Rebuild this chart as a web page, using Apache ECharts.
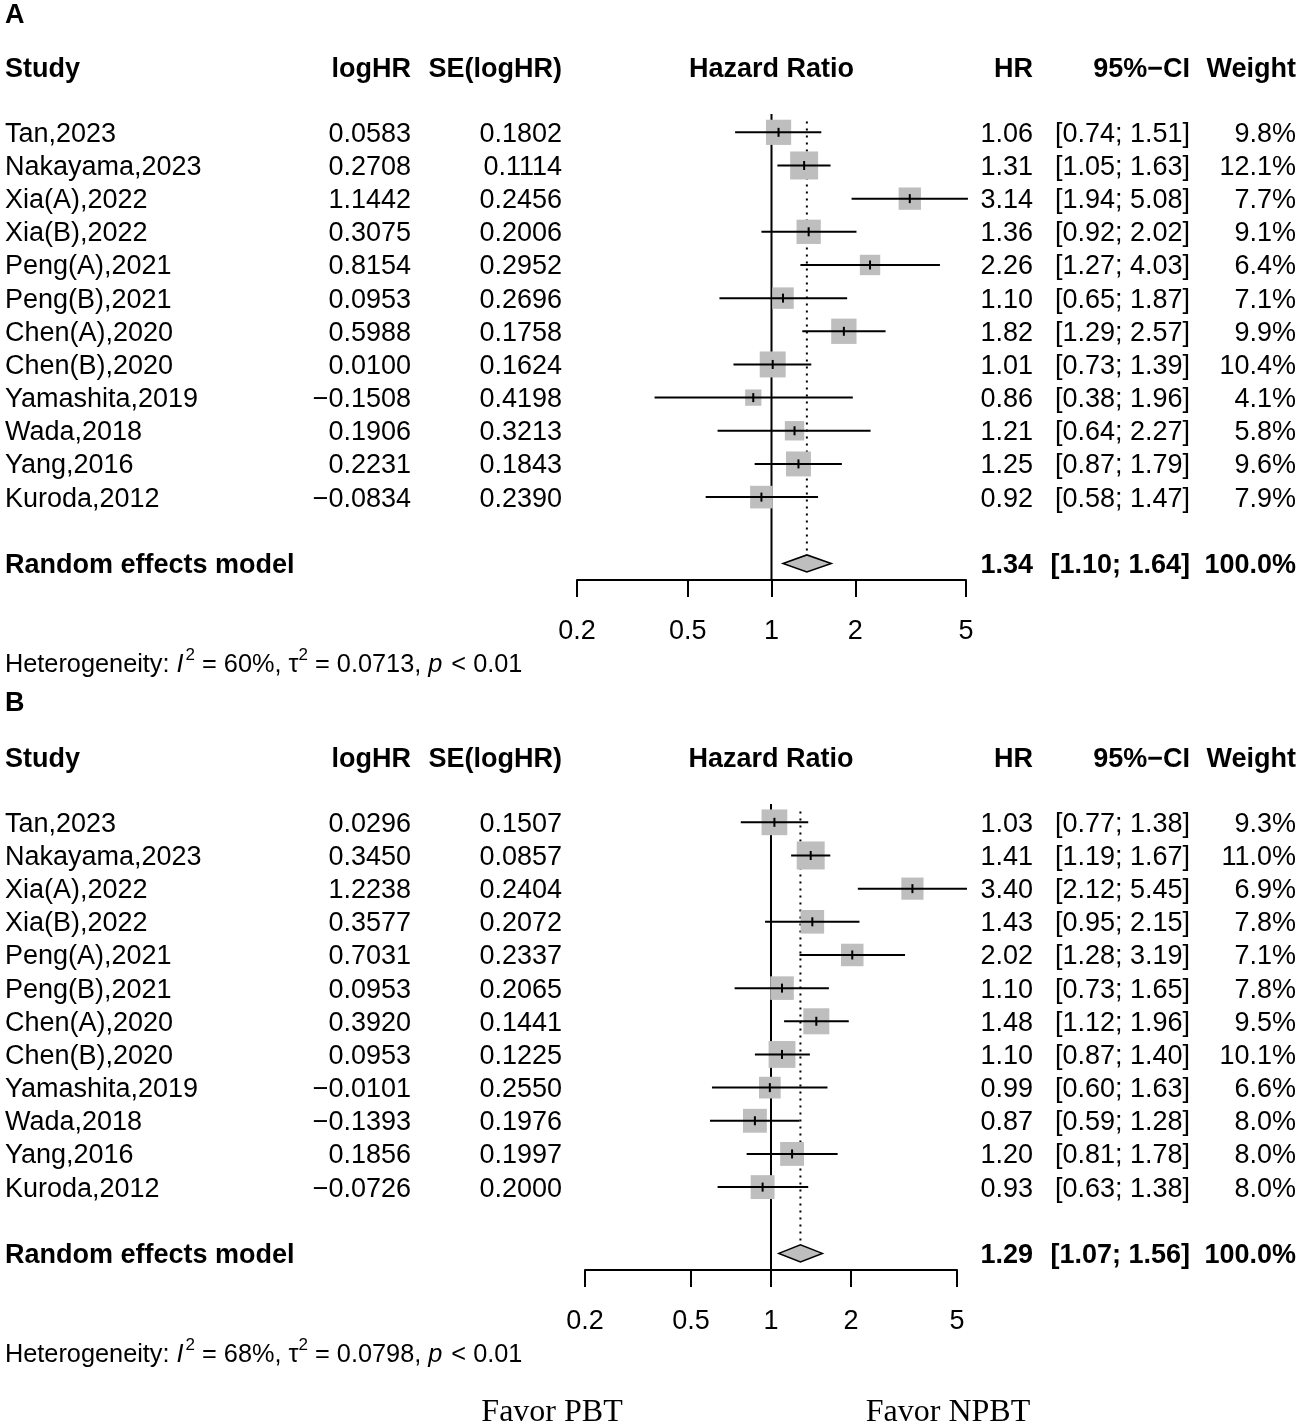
<!DOCTYPE html>
<html>
<head>
<meta charset="utf-8">
<script src="https://cdn.jsdelivr.net/npm/echarts@6/dist/echarts.min.js"></script>
<style>
  html, body { margin: 0; padding: 0; background: #fff; }
  #chart { width: 1299px; height: 1424px; }
</style>
</head>
<body>
<div id="chart"></div>
<script>
// studies (same order in both panels)
const studies = ['Tan,2023', 'Nakayama,2023', 'Xia(A),2022', 'Xia(B),2022', 'Peng(A),2021', 'Peng(B),2021',
  'Chen(A),2020', 'Chen(B),2020', 'Yamashita,2019', 'Wada,2018', 'Yang,2016', 'Kuroda,2012'];

// panel A
const logHrA = [0.0583, 0.2708, 1.1442, 0.3075, 0.8154, 0.0953, 0.5988, 0.0100, -0.1508, 0.1906, 0.2231, -0.0834];
const seA = [0.1802, 0.1114, 0.2456, 0.2006, 0.2952, 0.2696, 0.1758, 0.1624, 0.4198, 0.3213, 0.1843, 0.2390];
const hrA = [1.06, 1.31, 3.14, 1.36, 2.26, 1.10, 1.82, 1.01, 0.86, 1.21, 1.25, 0.92];
const lowA = [0.74, 1.05, 1.94, 0.92, 1.27, 0.65, 1.29, 0.73, 0.38, 0.64, 0.87, 0.58];
const highA = [1.51, 1.63, 5.08, 2.02, 4.03, 1.87, 2.57, 1.39, 1.96, 2.27, 1.79, 1.47];
const weightA = [9.8, 12.1, 7.7, 9.1, 6.4, 7.1, 9.9, 10.4, 4.1, 5.8, 9.6, 7.9];
const pooledA = [1.34, 1.10, 1.64];          // HR, lower, upper
const hetA = ['60%', '0.0713', '< 0.01'];     // I2, tau2, p

// panel B
const logHrB = [0.0296, 0.3450, 1.2238, 0.3577, 0.7031, 0.0953, 0.3920, 0.0953, -0.0101, -0.1393, 0.1856, -0.0726];
const seB = [0.1507, 0.0857, 0.2404, 0.2072, 0.2337, 0.2065, 0.1441, 0.1225, 0.2550, 0.1976, 0.1997, 0.2000];
const hrB = [1.03, 1.41, 3.40, 1.43, 2.02, 1.10, 1.48, 1.10, 0.99, 0.87, 1.20, 0.93];
const lowB = [0.77, 1.19, 2.12, 0.95, 1.28, 0.73, 1.12, 0.87, 0.60, 0.59, 0.81, 0.63];
const highB = [1.38, 1.67, 5.45, 2.15, 3.19, 1.65, 1.96, 1.40, 1.63, 1.28, 1.78, 1.38];
const weightB = [9.3, 11.0, 6.9, 7.8, 7.1, 7.8, 9.5, 10.1, 6.6, 8.0, 8.0, 8.0];
const pooledB = [1.29, 1.07, 1.56];
const hetB = ['68%', '0.0798', '< 0.01'];

const axisTicks = [0.2, 0.5, 1, 2, 5];
const favorLabels = ['Favor PBT', 'Favor NPBT'];

const FONT = "'Liberation Sans', Arial, Helvetica, sans-serif";
const SERIF = "'Liberation Serif', 'Times New Roman', serif";
const FS = 27;
const HET_FS = 25.3;
const DY = 2; // text baseline nudge
const COL = { study: 5, logHr: 411, se: 562, hr: 1033, ci: 1190, w: 1296 };
const GRAY = '#bebebe';

const panels = [
  { title: 'A', logHr: logHrA, se: seA, hr: hrA, lo: lowA, hi: highA, w: weightA, pooled: pooledA, het: hetA,
    grid: { left: 577, width: 389, top: 66, height: 514 } },
  { title: 'B', logHr: logHrB, se: seB, hr: hrB, lo: lowB, hi: highB, w: weightB, pooled: pooledB, het: hetB,
    grid: { left: 585, width: 372, top: 756, height: 514 }, favor: true }
];

const lg = v => Math.log10(v);
const minus = s => s.replace('-', '\u2212');
const ciText = (a, b) => '[' + a.toFixed(2) + '; ' + b.toFixed(2) + ']';

const measureCtx = document.createElement('canvas').getContext('2d');
function textWidth(str, font) { measureCtx.font = font; return measureCtx.measureText(str).width; }

function txt(text, x, y, align, opts) {
  opts = opts || {};
  return {
    type: 'text', x: x, y: y + DY,
    style: {
      text: text, fill: '#000',
      fontSize: opts.size || FS, fontFamily: opts.family || FONT,
      fontWeight: opts.bold ? 'bold' : 'normal', fontStyle: opts.italic ? 'italic' : 'normal',
      align: align, verticalAlign: 'middle', textAlign: align, textVerticalAlign: 'middle'
    }
  };
}

function tableRows(p) {
  const rows = [];
  rows.push({ row: -1.95, bold: true, cells: [['Study', COL.study, 'left'], ['logHR', COL.logHr, 'right'],
    ['SE(logHR)', COL.se, 'right'], ['Hazard Ratio', 'ref', 'center'], ['HR', COL.hr, 'right'],
    ['95%\u2212CI', COL.ci, 'right'], ['Weight', COL.w, 'right']] });
  studies.forEach((s, i) => {
    rows.push({ row: i, bold: false, cells: [[s, COL.study, 'left'],
      [minus(p.logHr[i].toFixed(4)), COL.logHr, 'right'], [p.se[i].toFixed(4), COL.se, 'right'],
      [p.hr[i].toFixed(2), COL.hr, 'right'], [ciText(p.lo[i], p.hi[i]), COL.ci, 'right'],
      [p.w[i].toFixed(1) + '%', COL.w, 'right']] });
  });
  rows.push({ row: 13, bold: true, cells: [['Random effects model', COL.study, 'left'],
    [p.pooled[0].toFixed(2), COL.hr, 'right'], [ciText(p.pooled[1], p.pooled[2]), COL.ci, 'right'],
    ['100.0%', COL.w, 'right']] });
  rows.push({ row: 16, het: p.het });
  if (p.favor) rows.push({ row: 17.75, favor: true });
  return rows;
}

function hetGroup(het, y) {
  const segs = [['Heterogeneity: ', 'n'], ['I', 'i'], ['2', 's'], [' = ' + het[0] + ', \u03c4', 'n'], ['2', 's'],
    [' = ' + het[1] + ', ', 'n'], ['p', 'i'], [' ' + het[2], 'n']];
  let x = COL.study;
  const children = [];
  segs.forEach(sg => {
    const kind = sg[1];
    const size = kind === 's' ? 17 : HET_FS;
    const font = (kind === 'i' ? 'italic ' : '') + size + 'px ' + FONT;
    children.push(txt(sg[0], x, kind === 's' ? y - 10 : y, 'left', { size: size, italic: kind === 'i' }));
    x += textWidth(sg[0], font) + (kind === 'i' ? 2 : 0);
  });
  return children;
}

const series = [];
panels.forEach((p, k) => {
  const maxW = Math.max.apply(null, p.w);
  // reference line at HR = 1 and dotted line at pooled HR
  series.push({
    type: 'custom', xAxisIndex: k, yAxisIndex: k, z: 1, clip: false, silent: true,
    data: [[lg(p.pooled[0]), 0]],
    renderItem: (params, api) => {
      const top = api.coord([0, -0.55]);
      const bottom = api.coord([0, 13.5]);
      const dTop = api.coord([api.value(0), -0.33]);
      const dBot = api.coord([api.value(0), 12.72]);
      return { type: 'group', children: [
        { type: 'line', shape: { x1: top[0], y1: top[1], x2: bottom[0], y2: bottom[1] },
          style: { stroke: '#000', lineWidth: 2 } },
        { type: 'line', shape: { x1: dTop[0], y1: dTop[1], x2: dBot[0], y2: dBot[1] },
          style: { stroke: '#000', lineWidth: 2, lineDash: [2, 5] } }
      ] };
    }
  });
  // study squares and confidence intervals
  series.push({
    type: 'custom', xAxisIndex: k, yAxisIndex: k, z: 2, clip: false, silent: true,
    data: studies.map((s, i) => [lg(p.hr[i]), i, lg(p.lo[i]), lg(p.hi[i]), p.w[i]]),
    renderItem: (params, api) => {
      const c = api.coord([api.value(0), api.value(1)]);
      const lo = api.coord([api.value(2), api.value(1)]);
      const hi = api.coord([api.value(3), api.value(1)]);
      const side = 28 * Math.sqrt(api.value(4) / maxW);
      return { type: 'group', children: [
        { type: 'rect', shape: { x: c[0] - side / 2, y: c[1] - side / 2, width: side, height: side },
          style: { fill: GRAY } },
        { type: 'line', shape: { x1: lo[0], y1: c[1], x2: hi[0], y2: c[1] }, style: { stroke: '#000', lineWidth: 2 } },
        { type: 'line', shape: { x1: c[0], y1: c[1] - 4.5, x2: c[0], y2: c[1] + 4.5 }, style: { stroke: '#000', lineWidth: 2 } }
      ] };
    }
  });
  // pooled diamond
  series.push({
    type: 'custom', xAxisIndex: k, yAxisIndex: k, z: 2, clip: false, silent: true,
    data: [[lg(p.pooled[0]), 13, lg(p.pooled[1]), lg(p.pooled[2])]],
    renderItem: (params, api) => {
      const c = api.coord([api.value(0), api.value(1)]);
      const lo = api.coord([api.value(2), api.value(1)]);
      const hi = api.coord([api.value(3), api.value(1)]);
      return { type: 'polygon',
        shape: { points: [[lo[0], c[1]], [c[0], c[1] - 8.5], [hi[0], c[1]], [c[0], c[1] + 8.5]] },
        style: { fill: GRAY, stroke: '#000', lineWidth: 1.5 } };
    }
  });
  // table text
  const rows = tableRows(p);
  series.push({
    type: 'custom', xAxisIndex: k, yAxisIndex: k, z: 3, clip: false, silent: true,
    data: rows.map(r => [0, r.row]),
    renderItem: (params, api) => {
      const r = rows[params.dataIndex];
      const c = api.coord([0, api.value(1)]);
      if (r.het) return { type: 'group', children: hetGroup(r.het, c[1]) };
      if (r.favor) return { type: 'group', children: [
        txt(favorLabels[0], 552, c[1], 'center', { size: 32, family: SERIF }),
        txt(favorLabels[1], 948, c[1], 'center', { size: 32, family: SERIF })
      ] };
      return { type: 'group', children: r.cells.map(cell =>
        txt(cell[0], cell[1] === 'ref' ? c[0] : cell[1], c[1], cell[2], { bold: r.bold })) };
    }
  });
});

const tickLog = axisTicks.map(lg);

const option = {
  backgroundColor: '#fff',
  animation: false,
  graphic: [
    txt('A', 5, 14, 'left', { bold: true }),
    txt('B', 5, 702, 'left', { bold: true })
  ],
  grid: panels.map(p => Object.assign({ containLabel: false }, p.grid)),
  xAxis: panels.map((p, k) => ({
    gridIndex: k, type: 'value', min: lg(0.2), max: lg(5), position: 'bottom',
    axisLine: { show: true, onZero: false, lineStyle: { color: '#000', width: 2 } },
    axisTick: { show: true, inside: false, length: 17, customValues: tickLog, lineStyle: { color: '#000', width: 2 } },
    axisLabel: { show: true, customValues: tickLog, margin: 38, color: '#000', fontSize: FS, fontFamily: FONT,
      showMinLabel: true, showMaxLabel: true,
      formatter: v => String(Math.round(Math.pow(10, v) * 10) / 10) },
    splitLine: { show: false }
  })),
  yAxis: panels.map((p, k) => ({ gridIndex: k, type: 'value', inverse: true, min: -2, max: 13.5, show: false })),
  series: series
};

const chart = echarts.init(document.getElementById('chart'), null, { renderer: 'canvas', width: 1299, height: 1424 });
chart.setOption(option);
</script>
</body>
</html>
